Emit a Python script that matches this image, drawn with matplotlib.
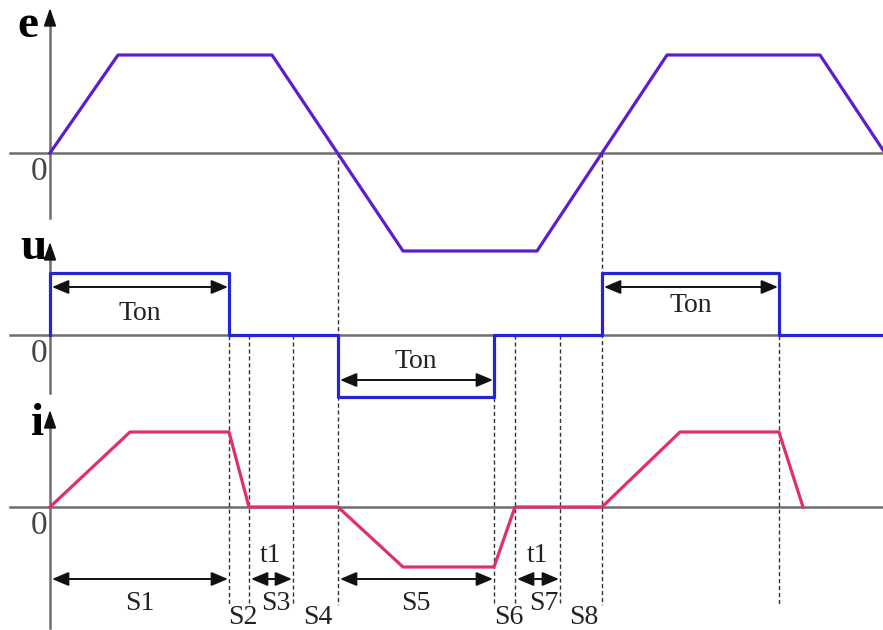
import matplotlib.pyplot as plt

# time breakpoints (horizontal position) and levels of each waveform
t_e = [50, 118, 272, 403, 537, 667, 820, 885]
e_val = [0, 1, 1, -1, -1, 1, 1, 0]

t_u = [50, 50, 229, 229, 338, 338, 494, 494, 602, 602, 779, 779, 883]
u_val = [0, 1, 1, 0, 0, -1, -1, 0, 0, 1, 1, 0, 0]

t_i = [50, 130, 229, 249, 338, 403, 494, 515, 602, 680, 779, 803]
i_val = [0, 1, 1, 0, 0, -0.8, -0.8, 0, 0, 1, 1, 0]

# switching instants (dashed guides) and where each guide starts
t_marks = [229, 249, 293, 338, 494, 515, 560, 602, 779]
mark_top = [273, 335, 335, 153, 335, 335, 335, 153, 273]

# interval arrows on u and under i
ton_spans = [(50, 229), (338, 494), (602, 779)]
s_spans = [(50, 229, "S1"), (249, 293, "t1"), (338, 494, "S5"), (515, 560, "t1")]
s_labels = ["S2", "S3", "S4", "S6", "S7", "S8"]
s_label_x = [243, 276, 318, 509, 544, 584]
s_label_y = [618, 604, 618, 618, 604, 618]

# baselines and scales of the three panels
base_e, amp_e = 153, 98
base_u, amp_u = 335, 62
base_i, amp_i = 507, 75

c_e = "#5a1ed0"
c_u = "#2626d0"
c_i = "#e0306a"

plt.rcParams['font.family'] = ['Liberation Serif', 'DejaVu Serif']

fig = plt.figure(figsize=(8.83, 6.30), dpi=100)
ax = fig.add_axes([0, 0, 1, 1])
ax.set_xlim(0, 883)
ax.set_ylim(630, 0)
ax.axis("off")

# baselines and vertical axes
for b, top, bot in [(base_e, 8, 218), (base_u, 242, 393), (base_i, 410, 628)]:
    ax.plot([10, 883], [b, b], color="#6e6e6e", lw=1.8, zorder=1)
    ax.plot([50, 50], [top + 10, bot], color="#6e6e6e", lw=1.8, zorder=1)
    ax.annotate("", xy=(50, top), xytext=(50, top + 16),
                arrowprops=dict(arrowstyle="-|>,head_width=0.38,head_length=1.1",
                                color="#111111", lw=1.2, shrinkA=0, shrinkB=0), zorder=2)

# dashed guides
for x, y0 in zip(t_marks, mark_top):
    ax.plot([x, x], [y0, 605], color="#333333", lw=1.0, ls=(0, (3, 2)), zorder=2)

ax.plot(t_e, [base_e - v * amp_e for v in e_val], color=c_e, lw=2.3, zorder=3)
ax.plot(t_u, [base_u - v * amp_u for v in u_val], color=c_u, lw=2.3, zorder=3)
ax.plot(t_i, [base_i - v * amp_i for v in i_val], color=c_i, lw=2.3, zorder=3)

arrow = dict(arrowstyle="<|-|>,head_width=0.42,head_length=1.0", color="#111111", lw=1.4,
             shrinkA=0, shrinkB=0)

# Ton arrows
ton_y = [287, 380, 287]
ton_ty = [314, 361, 305]
for (a, b), y, ty in zip(ton_spans, ton_y, ton_ty):
    ax.annotate("", xy=(a + 2, y), xytext=(b - 1, y), arrowprops=arrow, zorder=4)
    ax.text((a + b) / 2, ty, "Ton", fontsize=20, ha="center", va="center", color="#222222")

# arrows under i
for a, b, lab in s_spans:
    ax.annotate("", xy=(a + 2, 579), xytext=(b - 1, 579), arrowprops=arrow, zorder=4)
    if lab == "t1":
        ax.text((a + b) / 2, 556, lab, fontsize=20, ha="center", va="center", color="#222222")
    else:
        ax.text((a + b) / 2, 604, lab, fontsize=20, ha="center", va="center", color="#222222")

for lab, x, y in zip(s_labels, s_label_x, s_label_y):
    ax.text(x, y, lab, fontsize=20, ha="center", va="center", color="#222222")

# axis names and zeros
ax.text(28, 26, "e", fontsize=34, fontweight="bold", ha="center", va="center")
ax.text(33, 248, "u", fontsize=34, fontweight="bold", ha="center", va="center")
ax.text(38, 424, "i", fontsize=34, fontweight="bold", ha="center", va="center")
for b in [base_e, base_u, base_i]:
    ax.text(39, b + 19, "0", fontsize=24, ha="center", va="center", color="#444444")

fig.savefig("out.png", dpi=100)
